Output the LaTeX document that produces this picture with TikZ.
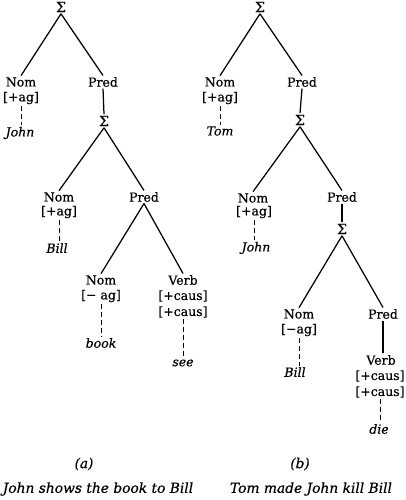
\documentclass[tikz,border=0pt]{standalone}
\usepackage{fontspec}
\setmainfont{DejaVu Serif}
\newfontfamily\labfont[FakeBold=0.5]{DejaVu Serif}
\begin{document}
\begin{tikzpicture}[x=1pt,y=-1pt,
  lab/.style={inner sep=1.5pt,font=\fontsize{12.5}{14}\labfont},
  sig/.style={inner sep=1.5pt,font=\fontsize{14}{16}\labfont},
  word/.style={inner sep=1.5pt,font=\fontsize{12.5}{14}\labfont\itshape},
  captext/.style={inner sep=0pt,font=\fontsize{13.8}{16}\labfont\itshape},
  branch/.style={line width=1.25pt},
  lexline/.style={line width=1pt,dash pattern=on 5pt off 3pt}]
\useasboundingbox (0,0) rectangle (405,500);
% ---------- tree (a)
\node[sig] (s1) at (61,7) {Σ};
\node[lab] (nom1) at (21,82) {Nom};
\node[lab] (f1) at (21,98) {[+ag]};
\node[word] (w1) at (20,133) {John};
\node[lab] (pred1) at (103,82) {Pred};
\node[sig] (s2) at (104,121) {Σ};
\node[lab] (nom2) at (59,197) {Nom};
\node[lab] (f2) at (59,212) {[+ag]};
\node[word] (w2) at (57,248) {Bill};
\node[lab] (pred2) at (144,197) {Pred};
\node[lab] (nom3) at (101,280) {Nom};
\node[lab] (f3) at (101,296) {[− ag]};
\node[word] (w3) at (101,343) {book};
\node[lab] (verb1) at (183,280) {Verb};
\node[lab] (f4) at (183,296) {[+caus]};
\node[lab] (f5) at (183,312) {[+caus]};
\node[word] (w4) at (183,363) {see};
\draw[branch] (s1.south) -- (nom1.north);
\draw[branch] (s1.south) -- (pred1.north);
\draw[branch] (pred1.south) -- (s2.north);
\draw[branch] (s2.south) -- (nom2.north);
\draw[branch] (s2.south) -- (pred2.north);
\draw[branch] (pred2.south) -- (nom3.north);
\draw[branch] (pred2.south) -- (verb1.north);
\draw[lexline] (f1.south) -- (f1.south |- w1.north);
\draw[lexline] (f2.south) -- (f2.south |- w2.north);
\draw[lexline] (f3.south) -- (f3.south |- w3.north);
\draw[lexline] (f5.south) -- (f5.south |- w4.north);
% ---------- tree (b)
\node[sig] (t1) at (260,7) {Σ};
\node[lab] (bnom1) at (220,82) {Nom};
\node[lab] (bf1) at (220,98) {[+ag]};
\node[word] (bw1) at (220,131) {Tom};
\node[lab] (bpred1) at (302,82) {Pred};
\node[sig] (t2) at (300,120) {Σ};
\node[lab] (bnom2) at (253,198) {Nom};
\node[lab] (bf2) at (254,212) {[+ag]};
\node[word] (bw2) at (256,248) {John};
\node[lab] (bpred2) at (342,197) {Pred};
\node[sig] (t3) at (342,229) {Σ};
\node[lab] (bnom3) at (299,314) {Nom};
\node[lab] (bf3) at (299,330) {[−ag]};
\node[word] (bw3) at (295,372) {Bill};
\node[lab] (bpred3) at (383,314) {Pred};
\node[lab] (bverb) at (381,360) {Verb};
\node[lab] (bf4) at (380,376) {[+caus]};
\node[lab] (bf5) at (380,392) {[+caus]};
\node[word] (bw4) at (379,429) {die};
\draw[branch] (t1.south) -- (bnom1.north);
\draw[branch] (t1.south) -- (bpred1.north);
\draw[branch] (bpred1.south) -- (t2.north);
\draw[branch] (t2.south) -- (bnom2.north);
\draw[branch] (t2.south) -- (bpred2.north);
\draw[branch] (bpred2.south) -- (t3.north);
\draw[branch] (t3.south) -- (bnom3.north);
\draw[branch] (t3.south) -- (bpred3.north);
\draw[branch] (bpred3.south) -- (bpred3.south |- bverb.north);
\draw[lexline] (bf1.south) -- (bf1.south |- bw1.north);
\draw[lexline] (bf2.south) -- (bf2.south |- bw2.north);
\draw[lexline] (bf3.south) -- (bf3.south |- bw3.north);
\draw[lexline] (bf5.south) -- (bf5.south |- bw4.north);
% ---------- captions
\node[captext] (la) at (84,464) {(a)};
\node[captext] (lb) at (300,464) {(b)};
\node[captext] (ca) at (98,489) {John shows the book to Bill};
\node[captext] (cb) at (311,489) {Tom made John kill Bill};
\end{tikzpicture}
\end{document}
